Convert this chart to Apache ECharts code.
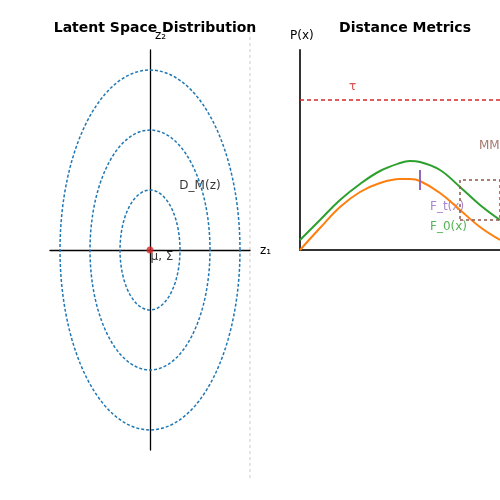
<!DOCTYPE html><html><head><meta charset="utf-8"><script src="https://cdn.jsdelivr.net/npm/echarts@6/dist/echarts.min.js"></script>
<style>html,body{margin:0;padding:0}#c{width:500px;height:500px}</style></head><body><div id="c"></div><script>
const ellipseRadii=[[30,60],[60,120],[90,180]];
const curveX=[0,20,40,60,80,100,110,120,140,160,180,200];
const f0=[10,30,50,66,79,87,89,88,80,63,45,30];
const ft=[0,22,43,58,67,71,71,69,57,40,23,10];
const tau=150;
const F='DejaVu Sans';
function ell(r){const p=[];for(let i=0;i<=120;i++){const a=i/120*2*Math.PI;p.push([r[0]*Math.cos(a),r[1]*Math.sin(a)]);}return p;}
const ch=echarts.init(document.getElementById('c'));
const ax={axisTick:{show:false},axisLabel:{show:false},splitLine:{show:false}};
const series=ellipseRadii.map(r=>({type:'line',xAxisIndex:0,yAxisIndex:0,data:ell(r),showSymbol:false,smooth:false,lineStyle:{color:'#1f77b4',width:1.5,type:[3,2]},silent:true}));
series.push({type:'scatter',xAxisIndex:0,yAxisIndex:0,data:[[0,0]],symbolSize:7,itemStyle:{color:'#d62728'},label:{show:true,formatter:'μ, Σ',position:'right',offset:[-8,7],color:'#000',fontSize:12,fontFamily:F}});
series.push({type:'scatter',xAxisIndex:0,yAxisIndex:0,data:[[50,64]],symbolSize:0,label:{show:true,formatter:'D_M(z)',position:'inside',color:'#000',fontSize:12,fontFamily:F}});
series.push({type:'line',xAxisIndex:1,yAxisIndex:1,data:curveX.map((x,i)=>[x,f0[i]]),smooth:0.4,showSymbol:false,lineStyle:{color:'#2ca02c',width:2}});
series.push({type:'line',xAxisIndex:1,yAxisIndex:1,data:curveX.map((x,i)=>[x,ft[i]]),smooth:0.4,showSymbol:false,lineStyle:{color:'#ff7f0e',width:2}});
series.push({type:'line',xAxisIndex:1,yAxisIndex:1,data:[[0,tau],[200,tau]],showSymbol:false,lineStyle:{color:'#d62728',width:1.5,type:[4,3]}});
series.push({type:'line',xAxisIndex:1,yAxisIndex:1,data:[[160,30],[200,30],[200,70],[160,70],[160,30]],showSymbol:false,lineStyle:{color:'#8c564b',width:1.5,type:[3,3]}});
series.push({type:'line',xAxisIndex:1,yAxisIndex:1,data:[[120,60],[120,80]],showSymbol:false,lineStyle:{color:'#9467bd',width:2}});
const lab=(x,y,t,c)=>({type:'scatter',xAxisIndex:1,yAxisIndex:1,data:[[x,y]],symbolSize:0,label:{show:true,formatter:t,position:'inside',color:c,fontSize:12,fontFamily:F,align:'left'}});
series.push(lab(49,163,'τ','#d62728'));
series.push(lab(179,104,'MMD','#8c564b'));
series.push(lab(130,43,'F_t(x)','#9467bd'));
series.push(lab(130,23,'F_0(x)','#2ca02c'));
ch.setOption({animation:false,
title:[{text:'Latent Space Distribution',left:150,top:16,textAlign:'center',textStyle:{fontSize:14,fontWeight:'bold',color:'#000',fontFamily:F}},
{text:'Distance Metrics',left:400,top:16,textAlign:'center',textStyle:{fontSize:14,fontWeight:'bold',color:'#000',fontFamily:F}}],
grid:[{left:50,top:50,width:200,height:400},{left:300,top:50,width:200,height:200}],
xAxis:[Object.assign({type:'value',gridIndex:0,min:-100,max:100,axisLine:{onZero:true,lineStyle:{color:'#000',width:1.3}}},ax),
Object.assign({type:'value',gridIndex:1,min:0,max:200,axisLine:{lineStyle:{color:'#333',width:2}}},ax)],
yAxis:[Object.assign({type:'value',gridIndex:0,min:-200,max:200,axisLine:{onZero:true,lineStyle:{color:'#000',width:1.3}}},ax),
Object.assign({type:'value',gridIndex:1,min:0,max:200,axisLine:{show:true,lineStyle:{color:'#333',width:2}}},ax)],
graphic:[{type:'line',shape:{x1:250,y1:25,x2:250,y2:480},style:{stroke:'#ccc',lineDash:[3,3],lineWidth:1}},
{type:'text',x:155,y:30,style:{text:'z₂',fontSize:12,fill:'#000',fontFamily:F}},
{type:'text',x:260,y:245,style:{text:'z₁',fontSize:12,fill:'#000',fontFamily:F}},
{type:'text',x:290,y:30,style:{text:'P(x)',fontSize:12,fill:'#000',fontFamily:F}}],
series});
</script></body></html>
